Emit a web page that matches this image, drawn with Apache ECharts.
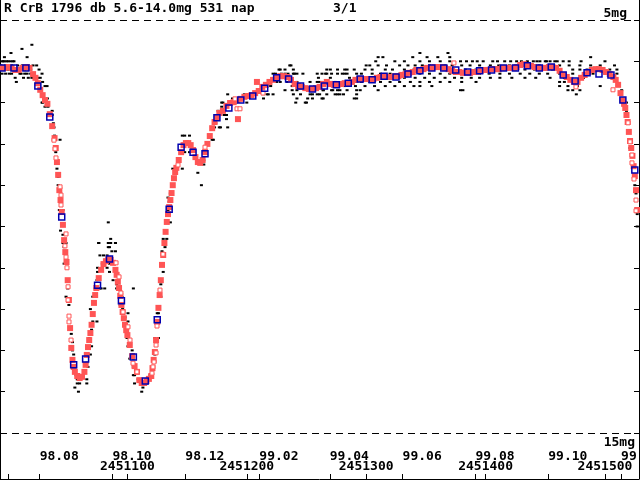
<!DOCTYPE html>
<html><head><meta charset="utf-8">
<script src="https://cdn.jsdelivr.net/npm/echarts@6/dist/echarts.min.js"></script>
<style>html,body{margin:0;padding:0;background:#fff}#c{width:640px;height:480px}</style>
</head><body><div id="c"></div>
<script>
// JD offsets are days after JD 2451000; magnitudes in mag
const monthTicks = [26.5, 87.5, 148.5, 210.5, 269.5, 330.5, 391.5, 452.5, 513.5];
const monthLabels = ['98.08','98.10','98.12','99.02','99.04','99.06','99.08','99.10','99.12'];
const jdTicks = [0, 100, 200, 300, 400, 500];
const jdLabelTicks = [100, 200, 300, 400, 500];
const jdLabels = ['2451100','2451200','2451300','2451400','2451500'];
const magTicks = [5,6,7,8,9,10,11,12,13,14,15];
const titleText = 'R CrB 1796 db 5.6-14.0mg 531 nap';
const pageText = '3/1';
const limitLines = [5, 15];
const limitLabels = ['5mg', '15mg'];

// individual observations [jd, mag]
const obs = [
[-5,6.0],[-4,6.0],[-1,6.0],[2,6.0],[5,6.0],[-6,6.1],[-2,6.1],[3,6.1],[8,6.1],[12,6.1],[17,6.1],[21,6.1],
[-5,6.2],[0,6.2],[4,6.2],[9,6.2],[14,6.2],[19,6.2],[-5,6.3],[-2,6.3],[3,6.3],[10,6.3],[14,6.3],[19,6.3],
[6,6.4],[13,6.4],[17,6.4],[22,6.4],[25,6.4],[7,6.5],[-3,5.9],[16,5.9],[2.5,5.8],[11.7,5.7],[20,5.6],
[-3,6.0],[0,6.0],[4,6.0],[-4,6.2],[1,6.3],[16,6.3],[20,6.4],[11,6.3],
[24,6.1],[26,6.2],[27,6.4],[28.5,6.3],[29,6.5],[31,6.6],[32.7,6.6],[33,6.9],[29,7.0],[33.5,7.1],[37,7.3],
[28.5,7.0],[31,7.1],[37,7.2],[38,7.5],[38.5,7.6],[39,7.8],[43.6,7.9],[40,8.2],[41,8.4],[41,8.6],[42,8.8],
[42,9.0],[44,9.3],[43,9.6],[46,9.6],[44,10.1],[46,10.2],[48.6,10.4],[47,10.5],
[46,10.4],[47,10.9],[48,10.9],[50,11.5],[48.6,11.7],[51,11.9],[53,12.5],[53,12.6],[54,12.8],[54,13.0],
[55,13.1],[56,13.5],[57,13.6],[58,13.7],[58,13.8],[56,13.9],[59,14.0],[60,13.8],[66,13.8],[66,13.7],
[64.5,13.5],[67,13.4],[66,13.3],[69,13.1],[70,12.9],[68,12.7],[70,12.5],[71,12.3],[74.5,12.3],[69,12.0],
[71,11.7],[73,11.5],[78,11.5],[81,11.5],[74.5,11.3],[75,11.1],[75,11.0],[79,10.9],[77,10.7],[80,10.7],
[83,10.7],[87,10.6],[90,10.6],[85,10.5],[84,10.4],[76,10.4],[90,10.4],[86,10.3],[85,10.9],[88,10.9],
[83,11.0],[85,11.1],[90,11.1],[88,11.3],[91,11.4],[91,11.5],[95.5,11.7],[94,11.9],[96,12.0],[100.5,12.1],
[98,12.2],[100.5,12.3],[98,12.4],[99.7,12.7],[100.5,12.7],[100.5,12.9],[104,13.0],[105,13.1],[102,13.2],
[105,13.2],[105,13.4],[106,13.4],[108,13.5],[105,13.6],[106,13.6],[109,13.7],[106,13.8],[111,13.8],
[116,13.8],[113,13.9],[112,14.0],[119,13.6],[121,13.5],[121,13.4],[123,13.1],[123,12.7],[126,12.7],
[125,12.1],[126,12.1],[128,11.7],[128,11.4],[130,11.1],[131.5,10.5],[130,10.3],[129,10.6],[77,11.5],
[105,11.5],[86,10.4],[84,9.9],[76,10.4],[90,10.4],[84,10.5],
[133,10.3],[136,9.9],[134,9.6],[135,9.4],[134,9.3],[136,9.2],[138,9.0],[138,8.6],[146,8.6],[146,7.8],
[148,7.8],[152,7.8],[147,8.0],[151,8.0],[148,8.2],[152,8.2],[140,8.6],[162,9.0],[159,8.7],[164,8.5],
[164,8.4],[171,7.9],[172,7.9],[174,7.5],[176,7.2],[177,7.6],[173,7.6],[180,7.0],[184,6.8],[188,6.9],
[191,7.0],[179,7.1],[181,7.3],[183,7.3],[175,7.3],[178,7.6],[184,7.6],[183,7.4],[198,6.8],[203,6.8],
[200,7.0],[214,6.9],[217,6.8],[222,6.8],[220,6.6],[225,6.5],[228,6.2],[232,6.2],[236,6.1],[239,6.2],
[240,6.3],[247,6.3],[224,6.3],[230,6.4],[234,6.5],[238,6.6],[242,6.7],[245,6.8],[242,6.9],[241,7.0],
[249,7.0],[255,6.9],[259,6.8],[264,6.9],[253,6.8],[267,6.2],[271,6.3],[276,6.3],[280,6.3],[284,6.3],
[272,6.7],[276,6.8],[281,6.8],[264,6.7],[259,6.5],[267,6.5],[218,6.8],[200,6.8],[179,7.0],
[237,6.1],[227,6.2],[276,6.2],[284,6.2],[290,6.2],[222,6.3],[229,6.3],[232,6.3],[234.5,6.3],[239,6.3],
[242,6.3],[259,6.3],[263,6.3],[266,6.3],[292,6.3],[260,6.4],[228,6.5],[242,6.5],[253,6.5],[261,6.5],
[271,6.5],[281,6.5],[292,6.5],[232,6.7],[238,6.7],[253,6.7],[257,6.7],[271,6.7],[276,6.7],[284,6.7],
[292,6.7],[239,6.8],[255,6.8],[261,6.8],[274,6.8],[251,6.9],[263,6.9],[292,6.9],[250,7.0],
[345,5.8],[368.5,5.8],[310,5.9],[314,5.9],[339,5.9],[351,5.9],[360,5.9],[370,5.9],[488,5.9],
[345,6.0],[353,6.0],[362,6.0],[379,6.0],[389,6.0],[398,6.0],[406,6.0],[416,6.0],[426,6.0],[435,6.0],
[443,6.0],[451,6.0],[460,6.0],[445.5,6.0],[450,6.0],[454,6.0],[458,6.0],[308,6.0],[324,6.0],[332,6.0],
[370,6.0],[384,6.0],[393,6.0],[410,6.0],[421,6.0],[430,6.0],[440,6.0],[465,6.0],[470,6.0],[480,6.0],[500,6.0],
[317,6.1],[328,6.1],[303,6.1],[341,6.1],[353,6.1],[366,6.1],[387,6.1],[404,6.1],[420,6.1],[433,6.1],
[445,6.1],[462,6.1],[479,6.1],[488,6.1],[496,6.1],[508,6.1],
[300,6.1],[310,6.1],[335,6.1],[347,6.1],[360,6.1],[372,6.1],[380,6.1],[395,6.1],[411,6.1],[426,6.1],[440,6.1],[452,6.1],[470,6.1],
[270,6.2],[282,6.2],[299,6.2],[316,6.2],[332,6.2],[349,6.2],[366,6.2],[383,6.2],[400,6.2],[416,6.2],
[433,6.2],[450,6.2],[462,6.2],[473,6.2],[479,6.2],[485,6.2],[490,6.2],[498,6.2],[504,6.2],[510,6.2],
[305,6.2],[322,6.2],[340,6.2],[356,6.2],[372,6.2],[392,6.2],[408,6.2],[425,6.2],[441,6.2],[456,6.2],
[267,6.3],[282,6.3],[296,6.3],[312,6.3],[328,6.3],[345,6.3],[362,6.3],[379,6.3],[395,6.3],[412,6.3],
[429,6.3],[445,6.3],[473,6.3],[510,6.3],
[305,6.3],[320,6.3],[337,6.3],[353,6.3],[370,6.3],[387,6.3],[403,6.3],[420,6.3],[437,6.3],[452,6.3],[462,6.3],[490,6.3],[500,6.3],
[270,6.4],[286,6.4],[301,6.4],[316,6.4],[332,6.4],[349,6.4],[366,6.4],[380,6.4],[395,6.4],[412,6.4],
[433,6.4],[454,6.4],
[308,6.4],[324,6.4],[341,6.4],[357,6.4],[374,6.4],[388,6.4],[404,6.4],[422,6.4],[442,6.4],[466,6.4],[482,6.4],
[263,6.5],[274,6.5],[288,6.5],[303,6.5],[320,6.5],[337,6.5],[353,6.5],[370,6.5],[462,6.5],[466,6.5],[473,6.5],
[296,6.5],[312,6.5],[328,6.5],[345,6.5],[362,6.5],[380,6.5],[392,6.5],
[265,6.6],[282,6.6],[299,6.6],[316,6.6],[332,6.6],[345,6.6],[462,6.6],[469,6.6],[477,6.6],[496,6.6],
[291,6.6],[307,6.6],[324,6.6],[340,6.6],[355,6.6],
[264,6.7],[278,6.7],[295,6.7],[310,6.7],[379,6.7],[381,6.7],[469,6.7],[473,6.7],[479,6.7],[514,6.7],
[267,6.8],[278,6.8],[292,6.8],[476,6.8],[290,6.9],[518,7.0],[518,7.2],
[521,8.1],[523,8.5],[525,9.0],[526,9.2],[527,9.7],[527,10.0]
];

// smoothed curve, filled red squares [jd, mag]
const smooth = [
[-6,6.16],[-3,6.16],[0,6.14],[3,6.16],[6,6.21],[9,6.21],[12,6.16],[15,6.14],[18,6.16],[21,6.31],[23,6.40],
[25,6.53],[27,6.69],[29,6.82],[31,6.94],[33,7.03],[35,7.28],[37,7.57],[39,7.86],[40,8.10],[41,8.44],
[42,8.75],[43,9.12],[44,9.36],[45,9.65],[46,9.96],[47,10.33],[48,10.62],[49,10.86],[50,11.30],[51,11.78],
[52,12.46],[53,12.94],[54,13.23],[55,13.40],[56,13.52],[58,13.62],[60,13.67],[62,13.64],[64,13.52],
[65,13.35],[66,13.11],[67,12.92],[68,12.75],[69,12.58],[70,12.38],[71,12.12],[72,11.85],[73,11.66],
[74,11.49],[76,11.25],[78,11.05],[80,10.91],[82,10.84],[84,10.79],[86,10.81],[88,10.88],[90,11.05],
[91,11.17],[92,11.34],[93,11.49],[94,11.68],[95,11.90],[96,12.07],[97,12.22],[98,12.38],[99,12.51],
[100,12.63],[102,12.87],[104,13.14],[106,13.38],[108,13.52],[110,13.72],[112,13.79],[114,13.79],
[116,13.74],[118,13.69],[120,13.62],[121,13.43],[122,13.23],[123,13.04],[124,12.75],[125,12.31],
[126,11.97],[127,11.66],[128,11.30],[129,10.93],[130,10.69],[131,10.40],[132,10.13],[133,9.89],
[134,9.70],[135,9.53],[136,9.36],[137,9.19],[138,9.00],[139,8.83],[140,8.68],[141,8.58],[143,8.39],
[145,8.20],[147,8.03],[149,7.98],[151,7.98],[153,8.03],[155,8.15],[157,8.32],[159,8.44],[161,8.46],
[163,8.39],[165,8.20],[167,8.00],[169,7.81],[171,7.62],[173,7.47],[175,7.37],[177,7.25],[180,7.20],
[183,7.08],[186,7.01],[189,6.99],[192,6.94],[195,6.91],[198,6.86],[201,6.84],[204,6.82],[207,6.77],
[210,6.72],[213,6.62],[216,6.57],[219,6.50],[222,6.45],[225,6.38],[228,6.36],[231,6.36],[234,6.38],
[237,6.45],[240,6.55],[243,6.60],[246,6.62],[249,6.65],[252,6.67],[255,6.67],[258,6.65],[261,6.62],
[264,6.55],[267,6.50],[270,6.55],[273,6.57],[276,6.57],[279,6.55],[282,6.53],[285,6.53],[288,6.50],
[291,6.45],[294,6.43],[297,6.43],[300,6.43],[303,6.43],[306,6.43],[309,6.40],[312,6.38],[315,6.38],
[318,6.38],[321,6.38],[324,6.36],[327,6.36],[330,6.33],[333,6.31],[336,6.28],[339,6.26],[342,6.21],
[345,6.21],[348,6.19],[351,6.16],[354,6.16],[357,6.14],[360,6.14],[363,6.14],[366,6.16],[369,6.19],
[372,6.23],[375,6.26],[378,6.26],[381,6.28],[384,6.28],[387,6.28],[390,6.26],[393,6.26],[396,6.23],
[399,6.21],[402,6.21],[405,6.19],[408,6.19],[411,6.19],[414,6.16],[417,6.16],[420,6.16],[423,6.16],
[426,6.14],[429,6.09],[432,6.07],[435,6.09],[438,6.11],[441,6.14],[444,6.16],[447,6.16],[450,6.16],
[453,6.14],[456,6.14],[459,6.16],[462,6.23],[465,6.33],[468,6.38],[471,6.45],[474,6.50],[477,6.50],
[480,6.40],[483,6.33],[486,6.26],[489,6.21],[492,6.19],[495,6.19],[498,6.21],[501,6.26],[504,6.31],
[507,6.38],[509,6.45],[511,6.57],[513,6.77],[515,6.94],[516,7.03],[517,7.13],[518,7.30],[519,7.47],
[520,7.71],[521,7.93],[522,8.10],[523,8.29],[524,8.54],[525,8.78],[526,9.12],[527,9.60],
[192.6,7.40],[208.5,6.50]
];

// smoothed curve, weak points (hollow red squares)
const smoothWeak = [
[38.5,7.91],[39.4,8.12],[40.2,8.34],[43.6,9.04],[44.4,9.24],[44.4,9.48],[48.6,10.18],[47.7,10.47],
[48.6,10.74],[49.4,11.00],[50.3,11.46],[50.3,11.78],[51.1,12.17],[51.1,12.31],[52.8,12.75],
[90.5,10.88],[93.0,11.22],[94.6,11.61],[96.3,12.07],[100.5,12.43],[102.2,12.75],[104.7,13.31],
[108.0,13.52],[120.6,13.55],[121.4,13.40],[122.3,13.28],[124.0,13.06],[124.0,12.87],[124.8,12.41],
[127.3,11.54],[129.8,10.67],[142.4,8.51],[165.0,8.08],[190.1,6.91],[191.8,7.15],[194.3,7.15],
[213.6,6.77],[373.5,6.04],[475.7,6.62],[506.7,6.69],[519.3,7.49],[521.0,7.95],[522.6,8.27],
[522.6,8.46],[524.3,8.85],[526.0,9.36],[526.0,9.62]
];

// 10-day means
const meanJD = [-5,5,15,25,35,45,55,65,75,85,95,105,115,125,135,145,155,165,175,185,195,205,215,225,235,
245,255,265,275,285,295,305,315,325,335,345,355,365,375,385,395,405,415,425,435,445,455,465,475,485,495,505,515,525];
const meanMag = [6.16,6.16,6.16,6.60,7.35,9.77,13.35,13.21,11.42,10.79,11.80,13.16,13.74,12.26,9.58,8.08,
8.20,8.24,7.37,7.13,6.94,6.84,6.65,6.40,6.43,6.60,6.67,6.60,6.57,6.53,6.43,6.45,6.36,6.38,6.31,6.23,
6.16,6.16,6.21,6.26,6.23,6.21,6.16,6.16,6.11,6.16,6.14,6.33,6.48,6.28,6.31,6.33,6.94,8.63];

const F = 'DejaVu Sans Mono';
const txt = {fontFamily: F, fontSize: 13, fontWeight: 'bold', color: '#000'};
const X_MIN = -6.7, X_MAX = 528.5, Y_MIN = 4.516, Y_MAX = 16.114;
const lookup = (vals, labels) => v => { const i = vals.findIndex(t => Math.abs(t - v) < 1e-6); return i >= 0 ? labels[i] : ''; };

const chart = echarts.init(document.getElementById('c'), null, {renderer: 'canvas', width: 640, height: 480});
const yBase = (pos) => ({
  type: 'value', inverse: true, min: Y_MIN, max: Y_MAX, position: pos,
  axisLine: {show: true, onZero: false, lineStyle: {color: '#000', width: 1}},
  axisTick: {show: true, inside: true, length: 5, customValues: magTicks, lineStyle: {color: '#000'}},
  axisLabel: {show: false}, splitLine: {show: false}
});
chart.setOption({
  animation: false,
  backgroundColor: '#fff',
  title: [
    {text: titleText, left: 4, top: 2, padding: 0, textStyle: txt},
    {text: pageText, left: 333, top: 2, padding: 0, textStyle: txt}
  ],
  grid: {left: 0, right: 1, top: 0, bottom: 1, containLabel: false, outerBoundsMode: 'none'},
  xAxis: [
    {type: 'value', min: X_MIN, max: X_MAX, position: 'bottom',
     axisLine: {show: true, onZero: false, lineStyle: {color: '#000', width: 1}},
     axisTick: {show: true, inside: true, length: 5, customValues: jdTicks.concat(monthTicks), lineStyle: {color: '#000'}},
     axisLabel: {show: true, inside: true, customValues: monthTicks, formatter: lookup(monthTicks, monthLabels),
       align: 'left', margin: 16, fontFamily: F, fontSize: 13, fontWeight: 'bold', color: '#000'},
     splitLine: {show: false}},
    {type: 'value', min: X_MIN, max: X_MAX, position: 'bottom',
     axisLine: {show: false}, axisTick: {show: false},
     axisLabel: {show: true, inside: true, customValues: jdLabelTicks, formatter: lookup(jdLabelTicks, jdLabels),
       align: 'center', margin: 6, fontFamily: F, fontSize: 13, fontWeight: 'bold', color: '#000'},
     splitLine: {show: false}}
  ],
  yAxis: [yBase('left'), yBase('right')],
  series: [
    {type: 'scatter', data: obs, symbol: 'rect', symbolSize: [3, 2], itemStyle: {color: '#000', opacity: 1}, silent: true, z: 1,
     markLine: {silent: true, symbol: 'none', animation: false,
       lineStyle: {color: '#000', type: [7, 5], width: 1},
       data: [
         {yAxis: limitLines[0], label: {show: true, position: 'insideEndTop', formatter: limitLabels[0], distance: [12, 0], ...txt}},
         {yAxis: limitLines[1], label: {show: true, position: 'insideEndBottom', formatter: limitLabels[1], distance: [4, 3], ...txt}}
       ]}},
    {type: 'scatter', data: smooth, symbol: 'rect', symbolSize: 6, itemStyle: {color: '#ff5555', opacity: 1}, silent: true, z: 2},
    {type: 'scatter', data: smoothWeak, symbol: 'rect', symbolSize: 4, itemStyle: {color: '#ffffff', borderColor: '#ff5555', borderWidth: 1, opacity: 1}, silent: true, z: 3},
    {type: 'scatter', data: meanJD.map((d, i) => [d, meanMag[i]]), symbol: 'rect', symbolSize: 6,
     itemStyle: {color: 'rgba(0,0,0,0)', borderColor: '#0000b0', borderWidth: 1.5, opacity: 1}, silent: true, z: 4}
  ]
});
</script></body></html>
